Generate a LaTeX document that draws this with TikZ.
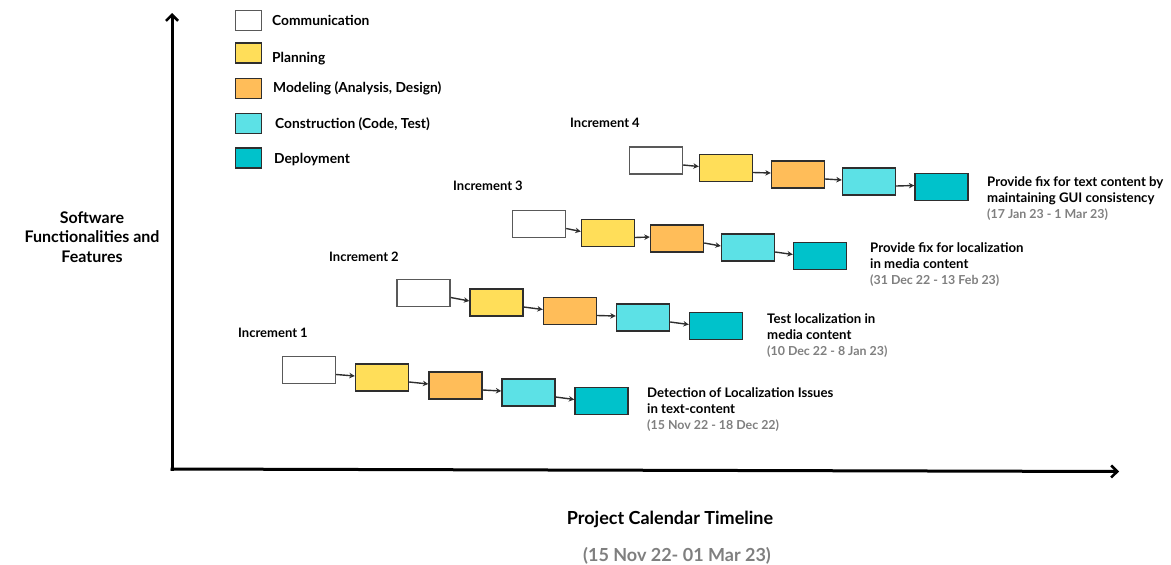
\documentclass[tikz,border=0pt]{standalone}
\usepackage{fontspec}
\setmainfont{Lato}
\usetikzlibrary{arrows.meta}

\definecolor{commcol}{HTML}{FFFFFF}
\definecolor{plancol}{HTML}{FFDE59}
\definecolor{modcol}{HTML}{FFBD59}
\definecolor{conscol}{HTML}{5CE1E6}
\definecolor{depcol}{HTML}{00C2CB}
\definecolor{edgecol}{HTML}{2E2E2E}
\definecolor{datecol}{HTML}{7F7F7F}

% one increment: five phase boxes chained left to right
\newcommand\phaserow[6]{%
  \node[phase, fill=commcol, draw=black!65] (#1a) at (#2) {};
  \node[phase, fill=plancol] (#1b) at (#3) {};
  \node[phase, fill=modcol]  (#1c) at (#4) {};
  \node[phase, fill=conscol] (#1d) at (#5) {};
  \node[phase, fill=depcol]  (#1e) at (#6) {};
  \draw[link] ([yshift=-4.5pt]#1a.east) -- ([yshift=1.5pt]#1b.west);
  \draw[link] ([yshift=-4.5pt]#1b.east) -- ([yshift=1.5pt]#1c.west);
  \draw[link] ([yshift=-4.5pt]#1c.east) -- ([yshift=1.5pt]#1d.west);
  \draw[link] ([yshift=-4.5pt]#1d.east) -- ([yshift=1.5pt]#1e.west);
}
\newcommand\datefont{\color{datecol}\fontsize{12.4}{16}\selectfont}

\begin{document}
\begin{tikzpicture}[x=1pt, y=-1pt, font=\bfseries,
  phase/.style={draw=edgecol, line width=1.4pt, minimum width=53pt,
    minimum height=27pt, inner sep=0pt},
  swatch/.style={draw=edgecol, line width=1.4pt, minimum width=26pt,
    minimum height=20pt, inner sep=0pt},
  link/.style={draw=edgecol, line width=1.4pt, -{Stealth[length=5.5pt,width=5.5pt]}},
  axis/.style={line width=3pt, -{Straight Barb[length=6pt,width=12pt,line width=2.6pt]}},
  legendtxt/.style={anchor=base west, inner sep=0pt, font=\bfseries\fontsize{13.8}{15}\selectfont},
  inclabel/.style={anchor=base west, inner sep=0pt, font=\bfseries\fontsize{13}{15}\selectfont},
  % multi-line nodes: the base anchor sits on the last line
  desc/.style={anchor=base west, inner sep=0pt, align=left,
    font=\bfseries\fontsize{13.2}{16}\selectfont},
]
\useasboundingbox (0,0) rectangle (1171,565);

% axes
\coordinate (origin) at (172,469);
\coordinate (ytip) at (172,13);
\coordinate (xtip) at (1119,471.5);
\draw[axis] ([yshift=-1.5pt]origin) -- (ytip);
\draw[axis] ([xshift=-1.5pt]origin) -- (xtip);

% legend
\node[swatch, fill=commcol, draw=black!65] (lg1) at (248.5,20.5) {};
\node[swatch, fill=plancol] (lg2) at (248.5,53) {};
\node[swatch, fill=modcol]  (lg3) at (248.5,88.5) {};
\node[swatch, fill=conscol] (lg4) at (248.5,123.5) {};
\node[swatch, fill=depcol]  (lg5) at (248.5,158) {};
\node[legendtxt] (lt1) at (272,25) {Communication};
\node[legendtxt] (lt2) at (272,62) {Planning};
\node[legendtxt] (lt3) at (273,92) {Modeling (Analysis, Design)};
\node[legendtxt] (lt4) at (275,128) {Construction (Code, Test)};
\node[legendtxt] (lt5) at (274,163) {Deployment};

% increments
\phaserow{p}{309,370}{382,377.5}{455.5,385.5}{528.5,392.5}{601.5,401}
\phaserow{q}{423.5,293}{496.5,302.5}{570,311}{643,317.5}{716,326}
\phaserow{r}{539,224}{608,233}{677,238.5}{748,247.5}{820,256}
\phaserow{s}{656,160.5}{726,168}{798,174.5}{869,181.5}{941.5,187}

\node[inclabel] (i1) at (238,337) {Increment 1};
\node[inclabel] (i2) at (329,261) {Increment 2};
\node[inclabel] (i3) at (453,190) {Increment 3};
\node[inclabel] (i4) at (570,127) {Increment 4};

\node[desc] (d1) at (647,429) {Detection of Localization Issues\\in text-content\\{\datefont(15 Nov 22 - 18 Dec 22)}};
\node[desc] (d2) at (767,355) {Test localization in\\media content\\{\datefont(10 Dec 22 - 8 Jan 23)}};
\node[desc] (d3) at (870,284) {Provide fix for localization\\in media content\\{\datefont(31 Dec 22 - 13 Feb 23)}};
\node[desc] (d4) at (987,218) {Provide fix for text content by\\maintaining GUI consistency\\{\datefont(17 Jan 23 - 1 Mar 23)}};

% axis titles
\node[align=center, inner sep=0pt, font=\bfseries\fontsize{16}{19.5}\selectfont] (ylab) at (92,237) {Software\\Functionalities and\\Features};
\node[inner sep=0pt, font=\bfseries\fontsize{18}{20}\selectfont] (xlab) at (670,519) {Project Calendar Timeline};
\node[inner sep=0pt, text=datecol, font=\bfseries\fontsize{18}{20}\selectfont] (xdate) at (677,556) {(15 Nov 22- 01 Mar 23)};
\end{tikzpicture}
\end{document}
